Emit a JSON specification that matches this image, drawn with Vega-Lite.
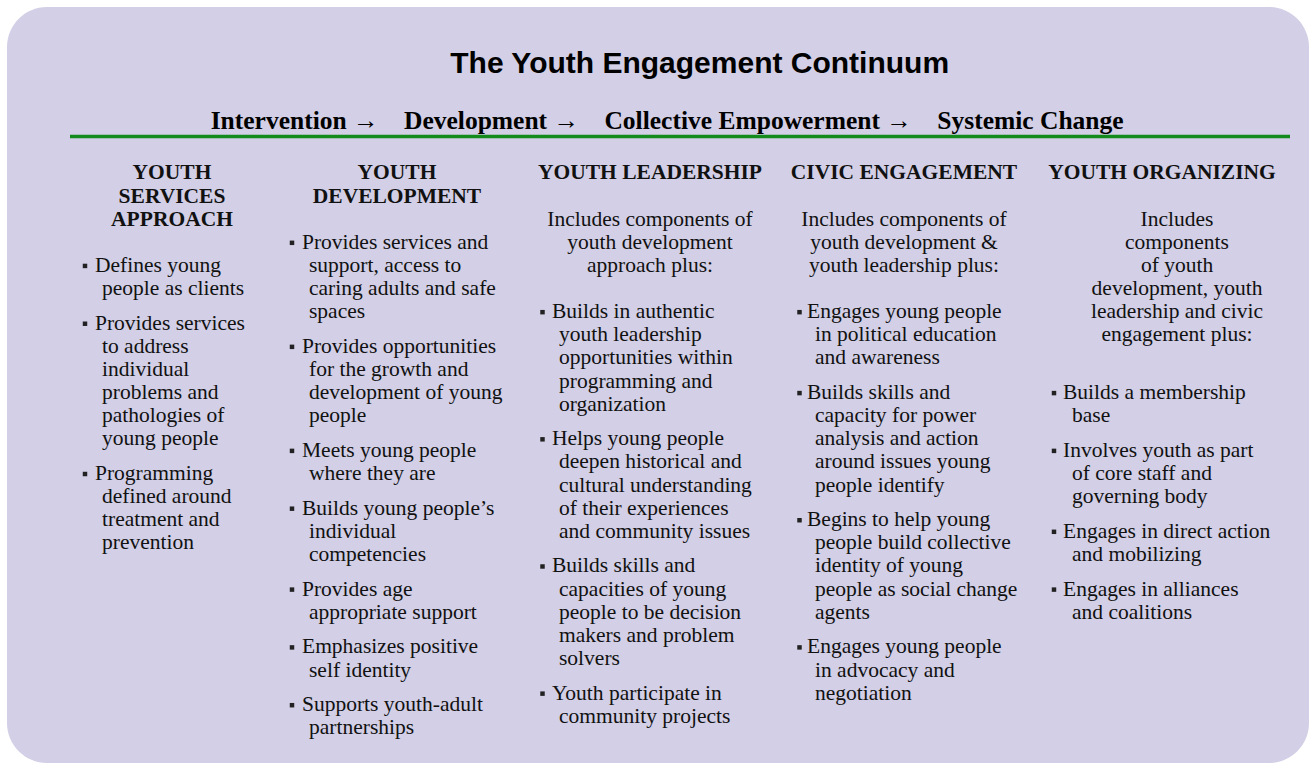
{
  "$schema": "https://vega.github.io/schema/vega-lite/v6.json",
  "width": 1302,
  "height": 756,
  "autosize": {"type": "none"},
  "padding": {"left": 7, "top": 7, "right": 1, "bottom": 5},
  "background": "#ffffff",
  "view": {"fill": "#d2cfe6", "stroke": null, "cornerRadius": 40},
  "datasets": {
    "heading": [
      {"role": "title", "text": "The Youth Engagement Continuum", "centre": 0.532, "line": -4.75},
      {"role": "subtitle", "text": "Intervention → \u00a0\u00a0\u00a0Development → \u00a0\u00a0\u00a0Collective Empowerment → \u00a0\u00a0\u00a0Systemic Change", "centre": 0.507, "line": -2.25}
    ],
    "divider": [
      {"from": 0, "to": 1, "line": -1.6}
    ],
    "lines": [
      {"col": 1, "line": 0, "kind": "head", "text": "YOUTH"},
      {"col": 1, "line": 1, "kind": "head", "text": "SERVICES"},
      {"col": 1, "line": 2, "kind": "head", "text": "APPROACH"},
      {"col": 2, "line": 0, "kind": "head", "text": "YOUTH"},
      {"col": 2, "line": 1, "kind": "head", "text": "DEVELOPMENT"},
      {"col": 3, "line": 0, "kind": "head", "text": "YOUTH LEADERSHIP"},
      {"col": 4, "line": 0, "kind": "head", "text": "CIVIC ENGAGEMENT"},
      {"col": 5, "line": 0, "kind": "head", "text": "YOUTH ORGANIZING"},

      {"col": 3, "line": 2, "kind": "intro", "text": "Includes components of"},
      {"col": 3, "line": 3, "kind": "intro", "text": "youth development"},
      {"col": 3, "line": 4, "kind": "intro", "text": "approach plus:"},
      {"col": 4, "line": 2, "kind": "intro", "text": "Includes components of"},
      {"col": 4, "line": 3, "kind": "intro", "text": "youth development &"},
      {"col": 4, "line": 4, "kind": "intro", "text": "youth leadership plus:"},
      {"col": 5, "line": 2, "kind": "intro", "text": "Includes"},
      {"col": 5, "line": 3, "kind": "intro", "text": "components"},
      {"col": 5, "line": 4, "kind": "intro", "text": "of youth"},
      {"col": 5, "line": 5, "kind": "intro", "text": "development, youth"},
      {"col": 5, "line": 6, "kind": "intro", "text": "leadership and civic"},
      {"col": 5, "line": 7, "kind": "intro", "text": "engagement plus:"},

      {"col": 1, "line": 4, "kind": "first", "text": "Defines young"},
      {"col": 1, "line": 5, "kind": "cont", "text": "people as clients"},
      {"col": 1, "line": 6.5, "kind": "first", "text": "Provides services"},
      {"col": 1, "line": 7.5, "kind": "cont", "text": "to address"},
      {"col": 1, "line": 8.5, "kind": "cont", "text": "individual"},
      {"col": 1, "line": 9.5, "kind": "cont", "text": "problems and"},
      {"col": 1, "line": 10.5, "kind": "cont", "text": "pathologies of"},
      {"col": 1, "line": 11.5, "kind": "cont", "text": "young people"},
      {"col": 1, "line": 13, "kind": "first", "text": "Programming"},
      {"col": 1, "line": 14, "kind": "cont", "text": "defined around"},
      {"col": 1, "line": 15, "kind": "cont", "text": "treatment and"},
      {"col": 1, "line": 16, "kind": "cont", "text": "prevention"},

      {"col": 2, "line": 3, "kind": "first", "text": "Provides services and"},
      {"col": 2, "line": 4, "kind": "cont", "text": "support, access to"},
      {"col": 2, "line": 5, "kind": "cont", "text": "caring adults and safe"},
      {"col": 2, "line": 6, "kind": "cont", "text": "spaces"},
      {"col": 2, "line": 7.5, "kind": "first", "text": "Provides opportunities"},
      {"col": 2, "line": 8.5, "kind": "cont", "text": "for the growth and"},
      {"col": 2, "line": 9.5, "kind": "cont", "text": "development of young"},
      {"col": 2, "line": 10.5, "kind": "cont", "text": "people"},
      {"col": 2, "line": 12, "kind": "first", "text": "Meets young people"},
      {"col": 2, "line": 13, "kind": "cont", "text": "where they are"},
      {"col": 2, "line": 14.5, "kind": "first", "text": "Builds young people’s"},
      {"col": 2, "line": 15.5, "kind": "cont", "text": "individual"},
      {"col": 2, "line": 16.5, "kind": "cont", "text": "competencies"},
      {"col": 2, "line": 18, "kind": "first", "text": "Provides age"},
      {"col": 2, "line": 19, "kind": "cont", "text": "appropriate support"},
      {"col": 2, "line": 20.5, "kind": "first", "text": "Emphasizes positive"},
      {"col": 2, "line": 21.5, "kind": "cont", "text": "self identity"},
      {"col": 2, "line": 23, "kind": "first", "text": "Supports youth-adult"},
      {"col": 2, "line": 24, "kind": "cont", "text": "partnerships"},

      {"col": 3, "line": 6, "kind": "first", "text": "Builds in authentic"},
      {"col": 3, "line": 7, "kind": "cont", "text": "youth leadership"},
      {"col": 3, "line": 8, "kind": "cont", "text": "opportunities within"},
      {"col": 3, "line": 9, "kind": "cont", "text": "programming and"},
      {"col": 3, "line": 10, "kind": "cont", "text": "organization"},
      {"col": 3, "line": 11.5, "kind": "first", "text": "Helps young people"},
      {"col": 3, "line": 12.5, "kind": "cont", "text": "deepen historical and"},
      {"col": 3, "line": 13.5, "kind": "cont", "text": "cultural understanding"},
      {"col": 3, "line": 14.5, "kind": "cont", "text": "of their experiences"},
      {"col": 3, "line": 15.5, "kind": "cont", "text": "and community issues"},
      {"col": 3, "line": 17, "kind": "first", "text": "Builds skills and"},
      {"col": 3, "line": 18, "kind": "cont", "text": "capacities of young"},
      {"col": 3, "line": 19, "kind": "cont", "text": "people to be decision"},
      {"col": 3, "line": 20, "kind": "cont", "text": "makers and problem"},
      {"col": 3, "line": 21, "kind": "cont", "text": "solvers"},
      {"col": 3, "line": 22.5, "kind": "first", "text": "Youth participate in"},
      {"col": 3, "line": 23.5, "kind": "cont", "text": "community projects"},

      {"col": 4, "line": 6, "kind": "first", "text": "Engages young people"},
      {"col": 4, "line": 7, "kind": "cont", "text": "in political education"},
      {"col": 4, "line": 8, "kind": "cont", "text": "and awareness"},
      {"col": 4, "line": 9.5, "kind": "first", "text": "Builds skills and"},
      {"col": 4, "line": 10.5, "kind": "cont", "text": "capacity for power"},
      {"col": 4, "line": 11.5, "kind": "cont", "text": "analysis and action"},
      {"col": 4, "line": 12.5, "kind": "cont", "text": "around issues young"},
      {"col": 4, "line": 13.5, "kind": "cont", "text": "people identify"},
      {"col": 4, "line": 15, "kind": "first", "text": "Begins to help young"},
      {"col": 4, "line": 16, "kind": "cont", "text": "people build collective"},
      {"col": 4, "line": 17, "kind": "cont", "text": "identity of young"},
      {"col": 4, "line": 18, "kind": "cont", "text": "people as social change"},
      {"col": 4, "line": 19, "kind": "cont", "text": "agents"},
      {"col": 4, "line": 20.5, "kind": "first", "text": "Engages young people"},
      {"col": 4, "line": 21.5, "kind": "cont", "text": "in advocacy and"},
      {"col": 4, "line": 22.5, "kind": "cont", "text": "negotiation"},

      {"col": 5, "line": 9.5, "kind": "first", "text": "Builds a membership"},
      {"col": 5, "line": 10.5, "kind": "cont", "text": "base"},
      {"col": 5, "line": 12, "kind": "first", "text": "Involves youth as part"},
      {"col": 5, "line": 13, "kind": "cont", "text": "of core staff and"},
      {"col": 5, "line": 14, "kind": "cont", "text": "governing body"},
      {"col": 5, "line": 15.5, "kind": "first", "text": "Engages in direct action"},
      {"col": 5, "line": 16.5, "kind": "cont", "text": "and mobilizing"},
      {"col": 5, "line": 18, "kind": "first", "text": "Engages in alliances"},
      {"col": 5, "line": 19, "kind": "cont", "text": "and coalitions"}
    ]
  },
  "layer": [
    {
      "data": {"name": "divider"},
      "mark": {"type": "rule", "color": "#128a1c", "strokeWidth": 3.5},
      "encoding": {
        "x": {"field": "from", "type": "quantitative", "axis": null, "scale": {"domain": [0, 1], "range": [63, 1283], "zero": false, "nice": false}},
        "x2": {"field": "to"},
        "y": {"field": "line", "type": "quantitative", "axis": null, "scale": {"domain": [-7.2, 25.5], "range": [0, 756], "zero": false, "nice": false}}
      }
    },
    {
      "data": {"name": "heading"},
      "transform": [{"filter": "datum.role === 'title'"}],
      "mark": {"type": "text", "font": "Liberation Sans", "fontWeight": "bold", "fontSize": 30, "align": "center", "baseline": "middle", "color": "#000000"},
      "encoding": {
        "x": {"field": "centre", "type": "quantitative", "axis": null, "scale": {"domain": [0, 1], "range": [0, 1302], "zero": false, "nice": false}},
        "y": {"field": "line", "type": "quantitative", "axis": null, "scale": {"domain": [-7.2, 25.5], "range": [0, 756], "zero": false, "nice": false}},
        "text": {"field": "text"}
      }
    },
    {
      "data": {"name": "heading"},
      "transform": [{"filter": "datum.role === 'subtitle'"}],
      "mark": {"type": "text", "font": "Liberation Serif", "fontWeight": "bold", "fontSize": 25.5, "align": "center", "baseline": "middle", "color": "#000000"},
      "encoding": {
        "x": {"field": "centre", "type": "quantitative", "axis": null, "scale": {"domain": [0, 1], "range": [0, 1302], "zero": false, "nice": false}},
        "y": {"field": "line", "type": "quantitative", "axis": null, "scale": {"domain": [-7.2, 25.5], "range": [0, 756], "zero": false, "nice": false}},
        "text": {"field": "text"}
      }
    },
    {
      "data": {"name": "lines"},
      "transform": [{"filter": "datum.kind === 'head'"}],
      "mark": {"type": "text", "font": "Liberation Serif", "fontWeight": "bold", "fontSize": 21.5, "align": "center", "baseline": "middle", "color": "#111111"},
      "encoding": {
        "x": {"field": "col", "type": "quantitative", "axis": null, "scale": {"domain": [1, 2, 3, 4, 5], "range": [165, 390, 643, 897, 1155], "zero": false, "nice": false}},
        "y": {"field": "line", "type": "quantitative", "axis": null, "scale": {"domain": [-7.2, 25.5], "range": [0, 756], "zero": false, "nice": false}},
        "text": {"field": "text"}
      }
    },
    {
      "data": {"name": "lines"},
      "transform": [{"filter": "datum.kind === 'intro'"}],
      "mark": {"type": "text", "font": "Liberation Serif", "fontSize": 21.5, "align": "center", "baseline": "middle", "color": "#111111"},
      "encoding": {
        "x": {"field": "col", "type": "quantitative", "axis": null, "scale": {"domain": [3, 4, 5], "range": [643, 897, 1170], "zero": false, "nice": false}},
        "y": {"field": "line", "type": "quantitative", "axis": null, "scale": {"domain": [-7.2, 25.5], "range": [0, 756], "zero": false, "nice": false}},
        "text": {"field": "text"}
      }
    },
    {
      "data": {"name": "lines"},
      "transform": [{"filter": "datum.kind === 'first'"}],
      "mark": {"type": "point", "shape": "square", "filled": true, "size": 20, "color": "#222222", "opacity": 1},
      "encoding": {
        "x": {"field": "col", "type": "quantitative", "axis": null, "scale": {"domain": [1, 2, 3, 4, 5], "range": [78, 285, 535.5, 792.5, 1047], "zero": false, "nice": false}},
        "y": {"field": "line", "type": "quantitative", "axis": null, "scale": {"domain": [-7.2, 25.5], "range": [0, 756], "zero": false, "nice": false}}
      }
    },
    {
      "data": {"name": "lines"},
      "transform": [{"filter": "datum.kind === 'first'"}],
      "mark": {"type": "text", "font": "Liberation Serif", "fontSize": 21.5, "align": "left", "baseline": "middle", "color": "#111111"},
      "encoding": {
        "x": {"field": "col", "type": "quantitative", "axis": null, "scale": {"domain": [1, 2, 3, 4, 5], "range": [88, 295, 545, 800, 1056], "zero": false, "nice": false}},
        "y": {"field": "line", "type": "quantitative", "axis": null, "scale": {"domain": [-7.2, 25.5], "range": [0, 756], "zero": false, "nice": false}},
        "text": {"field": "text"}
      }
    },
    {
      "data": {"name": "lines"},
      "transform": [{"filter": "datum.kind === 'cont'"}],
      "mark": {"type": "text", "font": "Liberation Serif", "fontSize": 21.5, "align": "left", "baseline": "middle", "color": "#111111"},
      "encoding": {
        "x": {"field": "col", "type": "quantitative", "axis": null, "scale": {"domain": [1, 2, 3, 4, 5], "range": [95, 302, 552, 808, 1065], "zero": false, "nice": false}},
        "y": {"field": "line", "type": "quantitative", "axis": null, "scale": {"domain": [-7.2, 25.5], "range": [0, 756], "zero": false, "nice": false}},
        "text": {"field": "text"}
      }
    }
  ],
  "resolve": {"scale": {"x": "independent"}}
}
